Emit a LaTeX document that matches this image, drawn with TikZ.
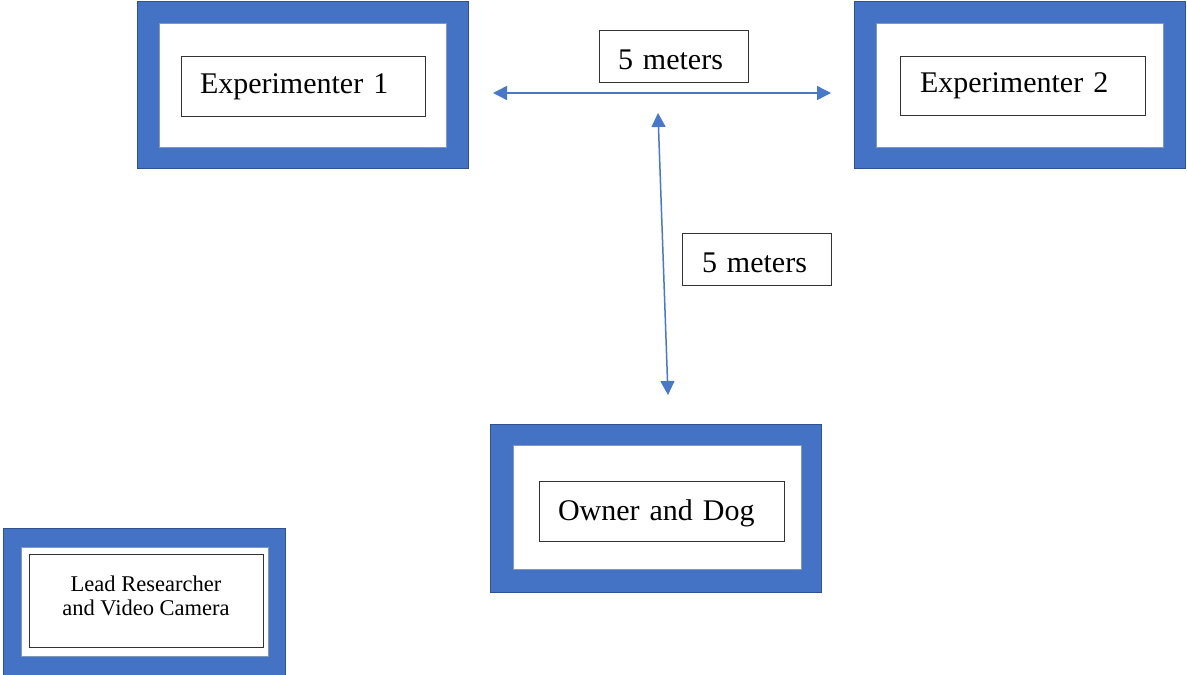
\documentclass[tikz,border=0pt]{standalone}
\usepackage{fontspec}
\setmainfont{Liberation Serif}
\usetikzlibrary{arrows.meta}
\definecolor{frameblue}{HTML}{4472C4}
\definecolor{edgeblue}{HTML}{2F528F}
\definecolor{arrowblue}{HTML}{4A78C8}
\newcommand{\lowtext}[2]{\smash{\raisebox{-#1}{#2}}}
\tikzset{
  frame/.style={fill=frameblue, draw=edgeblue, line width=1pt, inner sep=0pt},
  hole/.style={fill=white, draw=edgeblue!60, line width=0.8pt, inner sep=0pt},
  textbox/.style={fill=white, draw=black!80, line width=1pt, inner sep=0pt,
    font=\fontsize{30}{36}\selectfont, align=left, anchor=center},
  dim/.style={draw=arrowblue, line width=1.5pt, {Triangle[length=14pt,width=14pt]}-{Triangle[length=14pt,width=14pt]}}
}
\begin{document}
\begin{tikzpicture}[x=1pt,y=-1pt]
\useasboundingbox (0,0) rectangle (1187,675);
% Experimenter 1
\node[frame, minimum width=331, minimum height=167] (f1) at (302.5,84.5) {};
\node[hole, minimum width=287, minimum height=124] (h1) at (302.5,85) {};
\node[textbox, minimum width=244, minimum height=60, text width=224] (t1) at (303,86) {\hspace*{9pt}\lowtext{7pt}{Experimenter 1}};
% Experimenter 2
\node[frame, minimum width=331, minimum height=167] (f2) at (1019.5,84.5) {};
\node[hole, minimum width=287, minimum height=124] (h2) at (1019.5,85) {};
\node[textbox, minimum width=245, minimum height=59, text width=225] (t2) at (1022.5,85.5) {\hspace*{10pt}\lowtext{7pt}{Experimenter 2}};
% Owner and Dog
\node[frame, minimum width=331, minimum height=168] (f3) at (655.5,508) {};
\node[hole, minimum width=288, minimum height=124] (h3) at (657,507) {};
\node[textbox, minimum width=245, minimum height=60, text width=225] (t3) at (661.5,511) {\hspace*{9pt}\lowtext{9pt}{Owner and Dog}};
% Lead researcher
\node[frame, minimum width=282, minimum height=147] (f4) at (144,601.5) {};
\node[hole, minimum width=247, minimum height=109] (h4) at (144.5,601.5) {};
\node[textbox, minimum width=234, minimum height=93, align=center,
  font=\fontsize{22.5}{24}\selectfont] (t4) at (146,600.5) {\lowtext{14.5pt}{\begin{tabular}[b]{@{}c@{}}Lead Researcher\\and Video Camera\end{tabular}}};
% distance labels
\node[textbox, minimum width=149, minimum height=52, text width=129] (d1) at (673.5,56) {\hspace*{9pt}\lowtext{13pt}{5 meters}};
\node[textbox, minimum width=149, minimum height=52, text width=129] (d2) at (756.5,259) {\hspace*{10pt}\lowtext{13.5pt}{5 meters}};
% arrows
\coordinate (hl) at (493,93);
\coordinate (hr) at (831,93);
\coordinate (vt) at (658,113);
\coordinate (vb) at (668,395);
\draw[dim] (hl) -- (hr);
\draw[dim] (vt) -- (vb);
\end{tikzpicture}
\end{document}
